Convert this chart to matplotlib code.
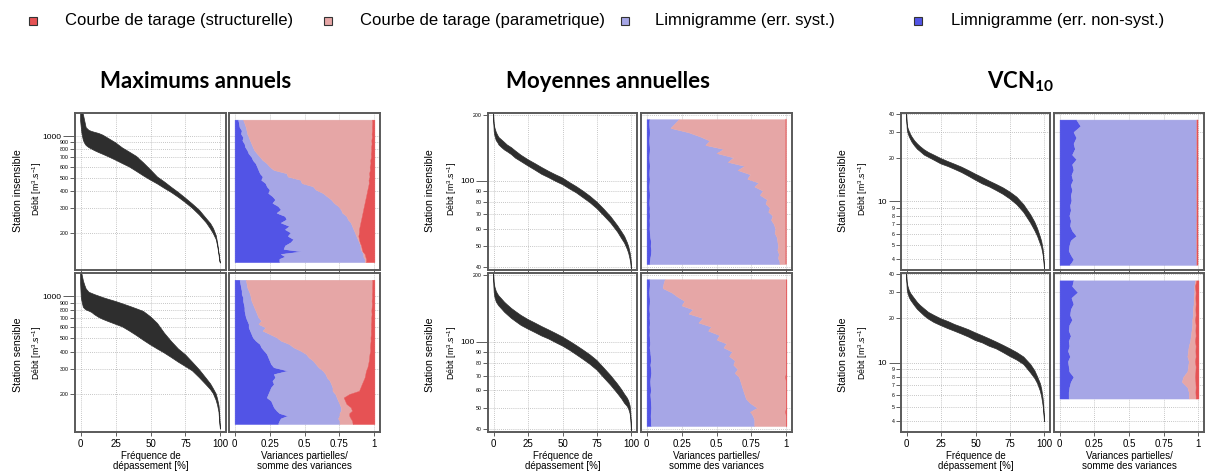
import matplotlib
matplotlib.use("Agg")
import matplotlib.pyplot as plt
from matplotlib.patches import Rectangle

plt.rcParams["font.family"] = ["Liberation Sans", "DejaVu Sans"]
plt.rcParams["mathtext.fontset"] = "custom"
plt.rcParams["mathtext.rm"] = "Liberation Sans"
plt.rcParams["mathtext.it"] = "Liberation Sans:italic"
plt.rcParams["mathtext.bf"] = "Lato:bold"

# couleurs des sources d'incertitude
C_STRUCT = "#E65254"
C_PARAM = "#E6A6A6"
C_SYST = "#A6A6E6"
C_NONSYST = "#5254E6"
C_FDC = "#2E2E2E"

LEGEND_LABELS = ["Courbe de tarage (structurelle)", "Courbe de tarage (parametrique)",
                 "Limnigramme (err. syst.)", "Limnigramme (err. non-syst.)"]
LEGEND_COLORS = [C_STRUCT, C_PARAM, C_SYST, C_NONSYST]
TITLES = ["Maximums annuels", "Moyennes annuelles", r"$\mathbf{VCN_{10}}$"]
ROW_LABELS = ["Station insensible", "Station sensible"]
YLABEL = "Débit [m$^3$.s$^{-1}$]"
FDC_XLABEL = "Fréquence de\ndépassement [%]"
VAR_XLABEL = "Variances partielles/\nsomme des variances"

FREQ_TICKS = [0, 25, 50, 75, 100]
VAR_TICKS = [0, 0.25, 0.5, 0.75, 1]
VAR_TICK_LABELS = ["0", "0.25", "0.5", "0.75", "1"]

# courbes des débits classés (fréquence de dépassement en %)
FREQ = [0, 0.5, 1, 2, 3, 4, 6, 8, 10, 13, 16, 20, 25, 30, 35, 40, 45, 50,
        55, 60, 65, 70, 75, 80, 85, 90, 93, 95, 97, 98, 99, 99.5, 100]

MAX_INS_HI = [1700, 1600, 1520, 1430, 1280, 1150, 1100, 1080, 1065, 1045, 1015, 960,
              895, 820, 765, 712, 640, 570, 505, 465, 425, 390, 355, 322,
              290, 252, 232, 214, 190, 168, 142, 130, 122]
MAX_INS_LO = [1300, 1150, 1040, 930, 885, 855, 825, 805, 785, 760, 738, 708,
              670, 632, 597, 555, 515, 480, 450, 418, 390, 360, 330, 300,
              268, 235, 212, 196, 178, 160, 138, 124, 120]
MAX_SEN_HI = [1700, 1520, 1440, 1290, 1200, 1130, 1070, 1050, 1030, 1005, 980, 952,
              920, 885, 850, 815, 780, 715, 640, 545, 475, 420, 382, 338,
              298, 258, 236, 218, 200, 184, 165, 145, 115]
MAX_SEN_LO = [1250, 980, 920, 835, 815, 800, 785, 768, 740, 708, 685, 660,
              632, 605, 565, 525, 485, 450, 420, 393, 365, 338, 315, 293,
              262, 232, 215, 201, 180, 166, 148, 125, 112]

MEAN_INS_HI = [205, 182, 175, 167, 162, 158, 154, 150, 146, 142, 137, 131,
               125, 120, 115, 110.5, 106.5, 103, 98.2, 94, 89.5, 84.8, 79.7, 74,
               68.3, 62, 58, 55.4, 51.8, 49.7, 46.6, 44.5, 41.5]
MEAN_INS_LO = [195, 168, 161, 153, 150, 146, 142, 138.5, 136, 132, 127, 122.5,
               117, 112, 107, 103.3, 99.4, 96, 91.8, 88, 83.5, 79.2, 74.4, 69,
               63.8, 58, 54, 51.6, 48.3, 46.3, 43.5, 41.5, 39]
MEAN_SEN_HI = [208, 186, 177, 169, 164.5, 161, 156, 151, 147, 141.5, 137, 131.5,
               126, 121.5, 117, 113, 109, 105, 100.5, 96, 91.5, 87, 82, 75.8,
               70, 64, 60.3, 57.6, 55.3, 53.6, 51, 47.8, 41.5]
MEAN_SEN_LO = [192, 167, 159, 151.5, 148, 145, 140.5, 136, 132.5, 127.5, 123.5, 118.5,
               114, 110, 106, 102.8, 99, 95.5, 91.5, 87.2, 83, 78.8, 74.2, 68.5,
               63.3, 58, 54.8, 52.4, 50.7, 49.3, 47, 44.3, 38.5]

VCN_INS_HI = [41, 34, 32, 30.2, 28.8, 27.7, 26, 24.8, 23.8, 22.6, 21.7, 20.8,
              19.7, 18.8, 18, 17.2, 16.3, 15.4, 14.6, 13.8, 13.1, 12.4, 11.6, 10.7,
              9.5, 8.1, 7.2, 6.5, 5.7, 5.3, 4.7, 4.25, 3.6]
VCN_INS_LO = [39, 31.3, 29.6, 27.8, 26.6, 25.5, 24, 22.8, 22, 20.8, 20.1, 19.2,
              18.1, 17.4, 16.6, 15.8, 14.9, 14, 13.2, 12.6, 11.9, 11.2, 10.4, 9.5,
              8.4, 7.1, 6.3, 5.75, 5.1, 4.8, 4.3, 3.95, 3.4]
VCN_SEN_HI = [41, 35, 33, 30.8, 29.5, 28.6, 27, 25.5, 24.4, 23.1, 21.9, 20.9,
              19.8, 19, 18.1, 17.4, 16.7, 15.9, 15.2, 14.5, 13.8, 13.1, 12.4, 11.7,
              10.9, 9.7, 8.8, 8.0, 7.2, 6.6, 5.7, 5.05, 4.2]
VCN_SEN_LO = [39, 31.2, 29.5, 27.6, 26.5, 25.7, 24.2, 22.9, 22, 20.7, 19.7, 18.7,
              17.8, 17, 16.3, 15.6, 14.9, 14.1, 13.6, 12.9, 12.4, 11.7, 11, 10.4,
              9.7, 8.5, 7.8, 7.2, 6.4, 5.85, 5.1, 4.55, 3.95]

# parts de variance cumulées (non-syst., + syst., + parametrique) par niveau de débit
MAX_Q = [1316, 1240, 1160, 1100, 1039, 985, 931, 880, 834, 790,
         747, 707, 670, 634, 600, 568, 538, 509, 482, 456,
         432, 409, 387, 366, 347, 328, 311, 294, 278, 263,
         249, 236, 223, 211, 200, 189, 179, 170, 161, 152,
         146, 140, 134, 129, 122]
MAX_INS_B1 = [.025, .03, .035, .05, .045, .06, .055, .07, .075, .09,
              .10, .12, .13, .15, .16, .17, .18, .20, .19, .22,
              .23, .25, .24, .27, .29, .27, .31, .33, .30, .36,
              .37, .33, .39, .36, .40, .38, .42, .40, .36, .35,
              .48, .33, .36, .32, .32]
MAX_INS_B2 = [.06, .07, .08, .085, .09, .10, .11, .12, .13, .14,
              .16, .18, .20, .23, .25, .28, .37, .38, .47, .48,
              .56, .58, .63, .66, .69, .71, .74, .76, .77, .80,
              .81, .83, .84, .85, .86, .87, .88, .89, .90, .90,
              .91, .92, .92, .93, .93]
MAX_INS_B3 = [.983, .984, .982, .983, .98, .982, .978, .98, .976, .978,
              .974, .976, .97, .972, .966, .968, .962, .965, .958, .96,
              .955, .95, .945, .94, .935, .93, .925, .92, .915, .91,
              .905, .90, .895, .89, .89, .885, .89, .895, .905, .91,
              .915, .93, .935, .94, .94]
MAX_SEN_B1 = [.035, .04, .045, .05, .05, .06, .06, .065, .07, .07,
              .075, .08, .09, .10, .10, .11, .12, .13, .15, .18,
              .19, .21, .23, .24, .25, .26, .28, .38, .28, .29,
              .27, .28, .26, .25, .24, .23, .26, .27, .28, .30,
              .32, .38, .33, .32, .31]
MAX_SEN_B2 = [.08, .085, .09, .10, .11, .115, .12, .13, .14, .15,
              .16, .17, .19, .17, .22, .20, .25, .30, .33, .39,
              .42, .47, .51, .53, .56, .58, .60, .63, .65, .66,
              .68, .69, .70, .70, .72, .73, .74, .75, .76, .76,
              .75, .75, .74, .75, .75]
MAX_SEN_B3 = [.985, .985, .983, .984, .982, .983, .98, .982, .98, .978,
              .98, .977, .978, .975, .976, .974, .975, .972, .973, .97,
              .968, .97, .965, .962, .96, .955, .95, .94, .935, .93,
              .92, .91, .90, .89, .82, .78, .79, .80, .83, .84,
              .82, .82, .83, .84, .845]

MEAN_Q = [192, 183, 175, 167, 160, 153, 146, 140, 134, 128,
          122, 117, 112, 107, 102, 98, 94, 90, 86, 82,
          78.5, 75, 72, 69, 66, 63, 60, 57.5, 55, 52.5,
          50, 48, 46, 44, 42.5, 41.3]
MEAN_INS_B1 = [.02, .018, .02, .022, .02, .018, .02, .022, .02, .018,
               .02, .022, .02, .019, .021, .02, .018, .02, .022, .02,
               .019, .021, .02, .022, .02, .021, .02, .022, .025, .03,
               .028, .032, .03, .025, .022, .02]
MEAN_INS_B2 = [.23, .20, .17, .30, .38, .45, .42, .55, .50, .62,
               .58, .70, .65, .74, .72, .80, .77, .83, .81, .86,
               .85, .88, .87, .90, .89, .91, .92, .915, .93, .935,
               .94, .935, .945, .94, .95, .95]
MEAN_INS_B3 = [.998, .998, .998, .998, .998, .998, .998, .998, .998, .998,
               .998, .998, .998, .998, .998, .998, .998, .998, .998, .998,
               .998, .998, .998, .998, .998, .998, .998, .998, .998, .998,
               .998, .998, .998, .998, .998, .998]
MEAN_SEN_B1 = [.02, .022, .02, .018, .02, .022, .02, .019, .021, .02,
               .022, .02, .021, .02, .022, .024, .02, .025, .028, .03,
               .026, .03, .032, .028, .025, .027, .03, .026, .028, .03,
               .032, .03, .028, .03, .03, .03]
MEAN_SEN_B2 = [.13, .12, .115, .18, .22, .27, .25, .33, .30, .40,
               .37, .46, .44, .52, .50, .57, .55, .61, .59, .63,
               .62, .65, .63, .66, .67, .68, .69, .70, .71, .74,
               .79, .74, .76, .77, .77, .77]
MEAN_SEN_B3 = [.997, .997, .997, .997, .997, .997, .997, .997, .997, .997,
               .997, .997, .997, .997, .997, .997, .997, .997, .997, .997,
               .997, .997, .997, .99, .997, .997, .997, .997, .997, .997,
               .997, .99, .997, .997, .997, .997]

VCN_INS_Q = [36.5, 33, 30, 27.5, 25, 23, 21, 19.5, 18, 16.5,
             15.2, 14, 13, 12, 11, 10.2, 9.4, 8.7, 8, 7.4,
             6.8, 6.3, 5.8, 5.4, 5, 4.6, 4.3, 4.0, 3.8, 3.66]
VCN_INS_B1 = [.12, .15, .10, .12, .10, .11, .09, .12, .09, .10,
              .085, .095, .08, .09, .08, .085, .075, .08, .07, .08,
              .075, .09, .12, .08, .07, .065, .08, .10, .085, .07]
VCN_INS_B2 = [.985, .986, .984, .985, .986, .984, .985, .986, .984, .985,
              .986, .984, .985, .986, .984, .985, .986, .984, .985, .986,
              .984, .985, .986, .984, .985, .986, .984, .985, .986, .985]
VCN_INS_B3 = [.993, .993, .993, .993, .993, .993, .993, .993, .993, .993,
              .993, .993, .993, .993, .993, .993, .993, .993, .993, .993,
              .993, .993, .993, .993, .993, .993, .993, .993, .993, .993]
VCN_SEN_Q = [36.1, 33, 30, 27.5, 25, 23, 21, 19.5, 18, 16.5,
             15.2, 14, 13, 12, 11, 10.2, 9.4, 8.7, 8, 7.4,
             6.8, 6.3, 5.9, 5.7]
VCN_SEN_B1 = [.10, .09, .13, .085, .10, .08, .075, .09, .07, .065,
              .08, .065, .07, .06, .075, .06, .065, .07, .10, .08,
              .07, .065, .065, .065]
VCN_SEN_B2 = [.975, .97, .97, .965, .965, .96, .96, .955, .955, .95,
              .945, .94, .93, .925, .92, .93, .925, .92, .89, .88,
              .92, .93, .93, .93]
VCN_SEN_B3 = [.985, .975, .98, .978, .98, .978, .98, .975, .98, .978,
              .98, .975, .98, .978, .98, .975, .98, .978, .975, .978,
              .98, .978, .98, .98]

GROUPS = [
    dict(ylim=(107, 1470), major=[1000], minor=[200, 300, 400, 500, 600, 700, 800, 900],
         fdc=[(MAX_INS_HI, MAX_INS_LO), (MAX_SEN_HI, MAX_SEN_LO)],
         var=[(MAX_Q, MAX_INS_B1, MAX_INS_B2, MAX_INS_B3),
              (MAX_Q, MAX_SEN_B1, MAX_SEN_B2, MAX_SEN_B3)]),
    dict(ylim=(38.8, 205), major=[100], minor=[40, 50, 60, 70, 80, 90, 200],
         fdc=[(MEAN_INS_HI, MEAN_INS_LO), (MEAN_SEN_HI, MEAN_SEN_LO)],
         var=[(MEAN_Q, MEAN_INS_B1, MEAN_INS_B2, MEAN_INS_B3),
              (MEAN_Q, MEAN_SEN_B1, MEAN_SEN_B2, MEAN_SEN_B3)]),
    dict(ylim=(3.38, 40.5), major=[10], minor=[4, 5, 6, 7, 8, 9, 20, 30, 40],
         fdc=[(VCN_INS_HI, VCN_INS_LO), (VCN_SEN_HI, VCN_SEN_LO)],
         var=[(VCN_INS_Q, VCN_INS_B1, VCN_INS_B2, VCN_INS_B3),
              (VCN_SEN_Q, VCN_SEN_B1, VCN_SEN_B2, VCN_SEN_B3)]),
]

# mise en page en pixels (figure 1205 x 475)
W, H = 1205, 475
GROUP_X = [(75, 226, 229, 380), (488, 637, 641, 792), (901, 1050, 1054, 1204)]
ROW_Y = [(113, 270), (273, 432)]
TITLE_X = [196, 608, 1021]
ROWLAB_X = [(18, 37), (430, 452), (843, 863)]
ROWLAB_Y = [191, 355]
LEG_SQ_X = [33, 328, 625, 918]
LEG_TXT_X = [65, 360, 655, 951]


def px_rect(x0, y0, x1, y1):
    return [x0 / W, 1 - y1 / H, (x1 - x0) / W, (y1 - y0) / H]


def fx(x):
    return x / W


def fy(y):
    return 1 - y / H


def style_axis(ax, grp):
    ax.set_yscale("log")
    ax.set_ylim(*grp["ylim"])
    ax.set_yticks(grp["major"], labels=[str(v) for v in grp["major"]])
    ax.set_yticks(grp["minor"], labels=[str(v) for v in grp["minor"]], minor=True)
    ax.set_axisbelow(True)
    ax.grid(True, which="both", ls=(0, (1, 1.5)), color="#b4b4b4", lw=0.6)
    for sp in ax.spines.values():
        sp.set_color("#5a5a5a")
        sp.set_linewidth(1.4)
    ax.tick_params(axis="x", length=3, width=0.6, color="#444444", labelsize=7, pad=2)


fig = plt.figure(figsize=(W / 100, H / 100), dpi=100)

for g, grp in enumerate(GROUPS):
    xl0, xl1, xr0, xr1 = GROUP_X[g]
    for r in range(2):
        y0, y1 = ROW_Y[r]
        axl = fig.add_axes(px_rect(xl0, y0, xl1, y1))
        axr = fig.add_axes(px_rect(xr0, y0, xr1, y1))

        hi, lo = grp["fdc"][r]
        axl.fill(FREQ + FREQ[::-1], hi + lo[::-1], color=C_FDC, lw=0.5)

        q, b1, b2, b3 = grp["var"][r]
        kw = dict(lw=0.3)
        axr.fill_betweenx(q, 0, b1, color=C_NONSYST, **kw)
        axr.fill_betweenx(q, b1, b2, color=C_SYST, **kw)
        axr.fill_betweenx(q, b2, b3, color=C_PARAM, **kw)
        axr.fill_betweenx(q, b3, 1, color=C_STRUCT, **kw)

        for ax in (axl, axr):
            style_axis(ax, grp)

        axl.set_xlim(-4, 104)
        axl.set_xticks(FREQ_TICKS, labels=[str(v) for v in FREQ_TICKS])
        axr.set_xlim(-0.04, 1.04)
        axr.set_xticks(VAR_TICKS, labels=VAR_TICK_LABELS)

        axl.tick_params(axis="y", which="major", length=9, width=0.6, color="#444444",
                        labelsize=6, pad=1)
        axl.tick_params(axis="y", which="minor", length=3.5, width=0.6, color="#444444",
                        labelsize=3.8, pad=1)
        axr.tick_params(axis="y", which="both", left=False, labelleft=False)

        if r == 0:
            axl.tick_params(axis="x", labelbottom=False)
            axr.tick_params(axis="x", labelbottom=False)
        else:
            fig.text(fx((xl0 + xl1) / 2), fy(451), FDC_XLABEL, ha="center", va="top",
                     fontsize=7, linespacing=1.05)
            fig.text(fx((xr0 + xr1) / 2), fy(451), VAR_XLABEL, ha="center", va="top",
                     fontsize=7, linespacing=1.05)

        sx, dx = ROWLAB_X[g]
        fig.text(fx(sx), fy(ROWLAB_Y[r]), ROW_LABELS[r], rotation=90,
                 ha="center", va="center", fontsize=7.6)
        fig.text(fx(dx), fy(ROWLAB_Y[r] - 2), YLABEL, rotation=90,
                 ha="center", va="center", fontsize=6.3)

    fig.text(fx(TITLE_X[g]), fy(82), TITLES[g], ha="center", va="center",
             fontsize=16, fontweight="bold", family="Lato")

# légende en haut
for xs, xt, lab, col in zip(LEG_SQ_X, LEG_TXT_X, LEGEND_LABELS, LEGEND_COLORS):
    fig.add_artist(Rectangle((fx(xs - 4), fy(25)), 8 / W, 8 / H, transform=fig.transFigure,
                             fc=col, ec="#333333", lw=0.8))
    fig.text(fx(xt), fy(21), lab, ha="left", va="center", fontsize=12)

fig.savefig("out.png", dpi=100)
